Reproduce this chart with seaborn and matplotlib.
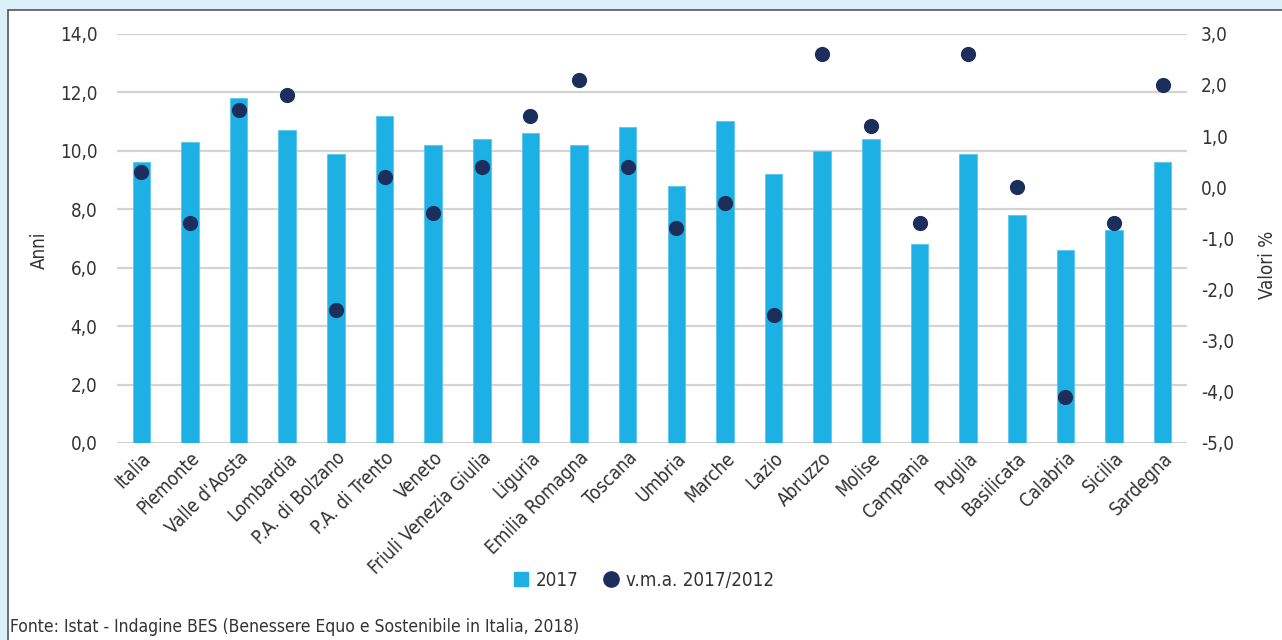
import numpy as np
import pandas as pd
import matplotlib
matplotlib.use("Agg")
import matplotlib.pyplot as plt
from matplotlib.patches import Rectangle
from matplotlib.lines import Line2D
from matplotlib.ticker import FuncFormatter, MultipleLocator
import seaborn as sns

regions = ["Italia", "Piemonte", "Valle d'Aosta", "Lombardia", "P.A. di Bolzano",
           "P.A. di Trento", "Veneto", "Friuli Venezia Giulia", "Liguria",
           "Emilia Romagna", "Toscana", "Umbria", "Marche", "Lazio", "Abruzzo",
           "Molise", "Campania", "Puglia", "Basilicata", "Calabria", "Sicilia",
           "Sardegna"]
anni_2017 = [9.6, 10.3, 11.8, 10.7, 9.9, 11.2, 10.2, 10.4, 10.6, 10.2, 10.8,
             8.8, 11.0, 9.2, 10.0, 10.4, 6.8, 9.9, 7.8, 6.6, 7.3, 9.6]
vma_2017_2012 = [0.3, -0.7, 1.5, 1.8, -2.4, 0.2, -0.5, 0.4, 1.4, 2.1, 0.4,
                 -0.8, -0.3, -2.5, 2.6, 1.2, -0.7, 2.6, 0.0, -4.1, -0.7, 2.0]

label_2017 = "2017"
label_vma = "v.m.a. 2017/2012"
left_title = "Anni"
right_title = "Valori %"
source = "Fonte: Istat - Indagine BES (Benessere Equo e Sostenibile in Italia, 2018)"

bar_color = "#1cb0e5"
dot_color = "#1c2e5c"
text_color = "#333333"
grid_color = "#d3d3d3"

sns.set_theme(style="white")
plt.rcParams["font.family"] = ["DejaVu Sans"]
plt.rcParams["font.stretch"] = "condensed"

df = pd.DataFrame({"regione": regions, "anni": anni_2017, "vma": vma_2017_2012})

fig = plt.figure(figsize=(12.82, 6.40), dpi=100)
fig.patch.set_facecolor("#dbeff9")
# white panel with a dark border
fig.add_artist(Rectangle((8 / 1282, -0.05), 1.2, 1 - 10 / 640 + 0.05,
                         transform=fig.transFigure, facecolor="white",
                         edgecolor="#555555", linewidth=1.2, zorder=0))

ax = fig.add_axes([117 / 1282, 1 - 443 / 640, (1187 - 117) / 1282, (443 - 33.7) / 640])
ax.set_facecolor("none")

sns.barplot(data=df, x="regione", y="anni", color=bar_color, width=0.36,
            saturation=1, edgecolor="#5cc6ee", linewidth=0.6, ax=ax, zorder=3)
ax.set_ylim(0, 14)
ax.yaxis.set_major_locator(MultipleLocator(2))
ax.yaxis.grid(True, color=grid_color, linewidth=1.6, zorder=0)
ax.set_axisbelow(True)
for s in ax.spines.values():
    s.set_visible(False)
comma = FuncFormatter(lambda v, p: f"{v:.1f}".replace(".", ","))
ax.yaxis.set_major_formatter(comma)
ax.tick_params(axis="y", length=0, pad=14, labelsize=13.5, labelcolor=text_color)
ax.tick_params(axis="x", length=0, pad=4, labelsize=13.5, labelcolor=text_color)
ax.set_xticks(range(len(regions)))
ax.set_xticklabels(regions, rotation=45, ha="right", rotation_mode="anchor")
ax.set_xlabel("")
ax.set_ylabel(left_title, fontsize=13.5, color=text_color)
ax.yaxis.set_label_coords(-0.064, 0.47)

ax2 = ax.twinx()
sns.scatterplot(x=np.arange(len(regions)), y=df["vma"], color=dot_color, s=120,
                edgecolor=dot_color, linewidth=0, ax=ax2, zorder=5)
ax2.set_ylim(-5, 3)
ax2.yaxis.set_major_locator(MultipleLocator(1))
ax2.yaxis.set_major_formatter(comma)
ax2.tick_params(axis="y", length=0, pad=10, labelsize=13.5, labelcolor=text_color)
for s in ax2.spines.values():
    s.set_visible(False)
ax2.set_ylabel(right_title, fontsize=13.5, color=text_color, rotation=90)
ax2.yaxis.set_label_coords(1.066, 0.435)
ax2.set_xlim(-0.5, len(regions) - 0.5)
ax.set_xlim(-0.5, len(regions) - 0.5)

handles = [
    Line2D([], [], linestyle="none", marker="s", markersize=10.5,
           markerfacecolor=bar_color, markeredgecolor=bar_color, label=label_2017),
    Line2D([], [], linestyle="none", marker="o", markersize=11,
           markerfacecolor=dot_color, markeredgecolor=dot_color, label=label_vma),
]
fig.legend(handles=handles, loc="center", bbox_to_anchor=(0.5, 1 - 580 / 640),
           ncol=2, frameon=False, fontsize=13.5, handletextpad=0.1,
           columnspacing=1.0, handlelength=1.4, labelcolor=text_color)

fig.text(10 / 1282, 1 - 627 / 640, source, fontsize=12.5, color=text_color,
         va="center", ha="left")

fig.savefig("out.png", dpi=100, facecolor=fig.get_facecolor())
